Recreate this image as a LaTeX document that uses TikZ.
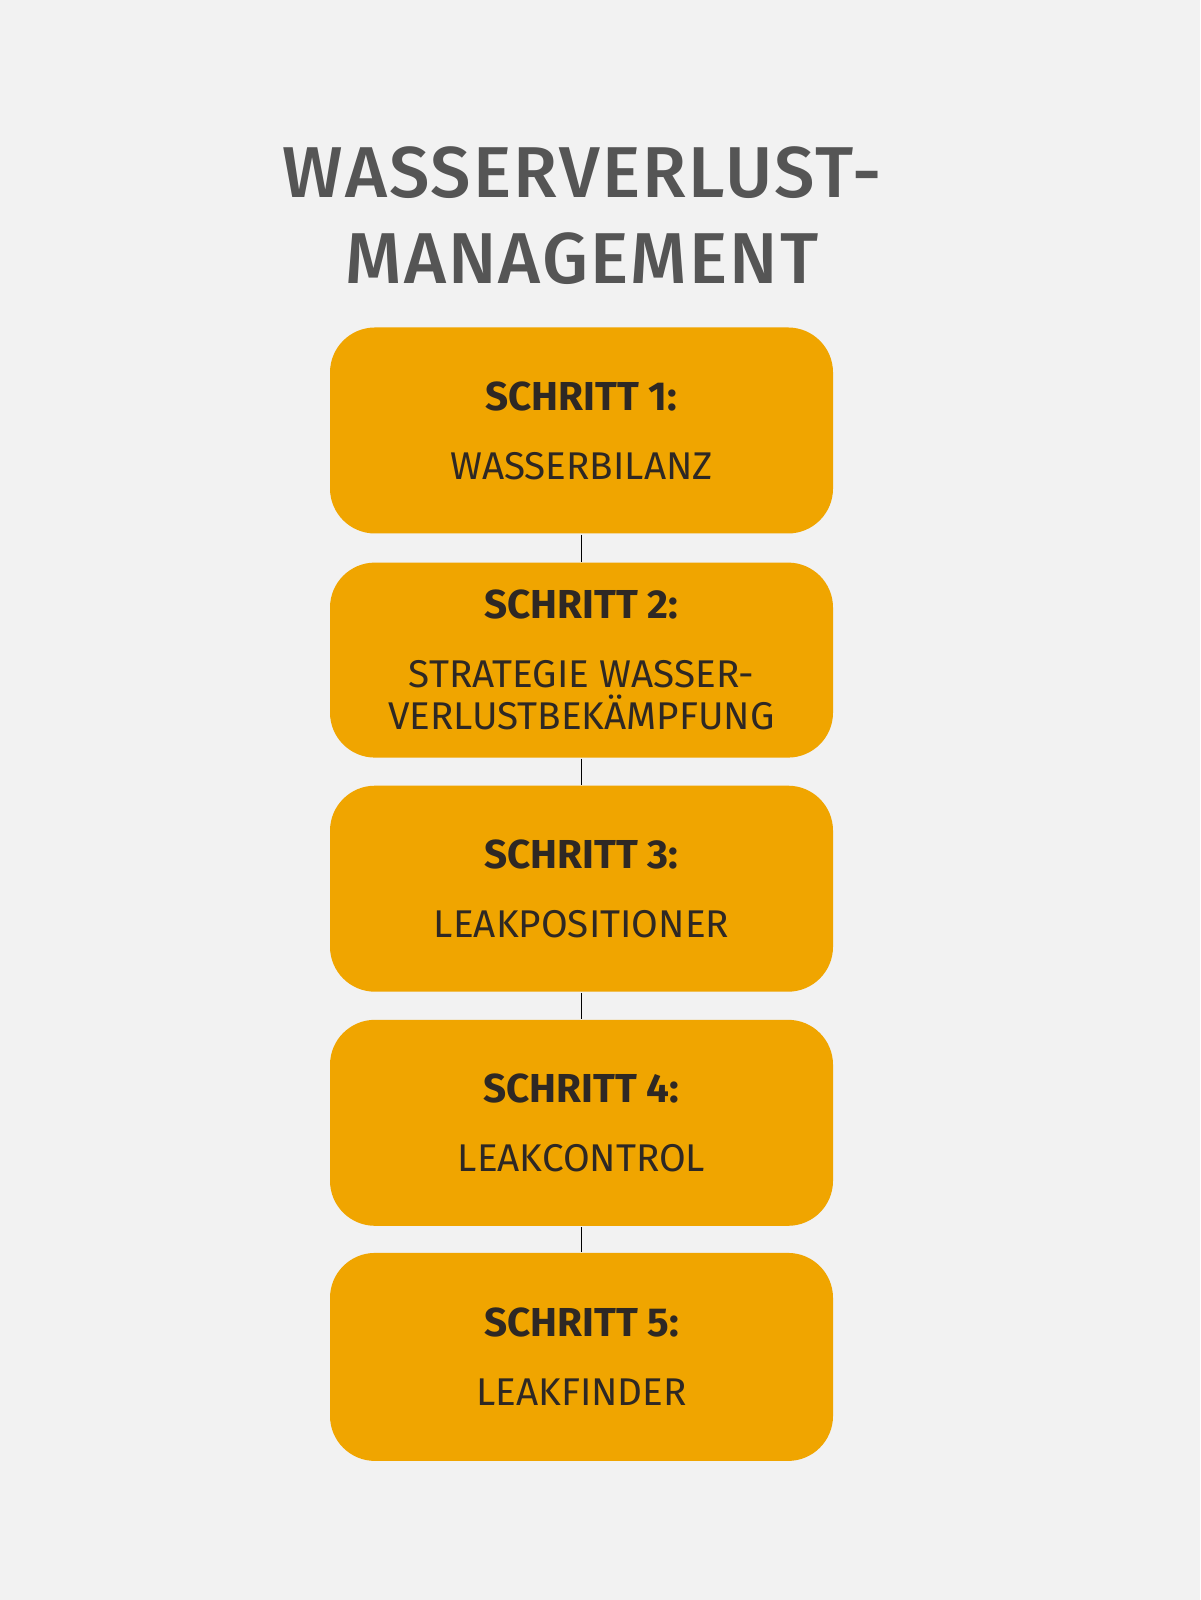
\documentclass[tikz,border=0pt]{standalone}
\usepackage{fontspec}
\setmainfont{Fira Sans}
\newfontfamily\medfont[LetterSpace=3]{Fira Sans Medium}
\usepackage{tikz}
\usetikzlibrary{positioning}
\definecolor{bg_gray}{RGB}{242,242,242}
\definecolor{title_gray}{RGB}{85,85,85}
\definecolor{step_orange}{RGB}{240,165,0}
\definecolor{text_dark}{RGB}{46,40,36}

\newcommand{\stephead}[1]{{\bfseries\fontsize{11.5}{12}\selectfont #1}}

\begin{document}
\begin{tikzpicture}[semithick]
    \tikzstyle{stepbox}=[fill=step_orange, draw=none, rounded corners=0.45cm, minimum width=5.03cm, minimum height=2.06cm, align=center, text=text_dark, font=\fontsize{11}{12}\selectfont]
    \tikzstyle{link}=[draw=black, line width=0.45pt]

    \fill[bg_gray] (0,0) rectangle (12,16);
    \useasboundingbox (0,0) rectangle (12,16);

    \node[text=title_gray, align=center, font=\medfont\fontsize{20.5}{24.5}\selectfont] (title) at (5.82,13.84) {WASSERVERLUST-\\MANAGEMENT};

    \node[stepbox] (s1) at (5.815,11.695) {\stephead{SCHRITT 1:}\\[7.6pt]WASSERBILANZ};
    \node[stepbox, minimum height=1.95cm, below=0.27cm of s1] (s2) {\stephead{SCHRITT 2:}\\[7.6pt]STRATEGIE WASSER-\\VERLUSTBEKÄMPFUNG};
    \node[stepbox, below=0.26cm of s2] (s3) {\stephead{SCHRITT 3:}\\[7.6pt]LEAKPOSITIONER};
    \node[stepbox, below=0.26cm of s3] (s4) {\stephead{SCHRITT 4:}\\[7.6pt]LEAKCONTROL};
    \node[stepbox, minimum height=2.08cm, below=0.25cm of s4] (s5) {\stephead{SCHRITT 5:}\\[7.6pt]LEAKFINDER};

    \path[link]
     (s1) edge (s2)
     (s2) edge (s3)
     (s3) edge (s4)
     (s4) edge (s5)
     ;
\end{tikzpicture}
\end{document}
